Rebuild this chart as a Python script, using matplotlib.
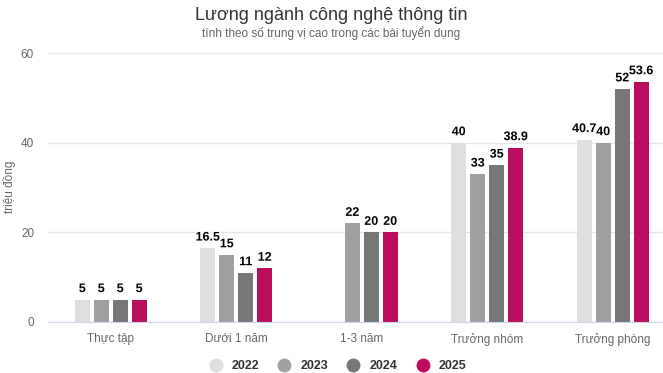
import matplotlib
matplotlib.use("Agg")
import matplotlib.pyplot as plt
import matplotlib.patheffects as pe
import numpy as np

plt.rcParams['font.family'] = ['Liberation Sans', 'DejaVu Sans']

categories = ["Thực tập", "Dưới 1 năm", "1-3 năm", "Trưởng nhóm", "Trưởng phòng"]
years = ["2022", "2023", "2024", "2025"]
v2022 = [5, 16.5, None, 40, 40.7]
v2023 = [5, 15, 22, 33, 40]
v2024 = [5, 11, 20, 35, 52]
v2025 = [5, 12, 20, 38.9, 53.6]
series = [v2022, v2023, v2024, v2025]
colors = ["#dedede", "#a0a0a0", "#777777", "#bb0e5e"]

fig = plt.figure(figsize=(6.63, 3.73), dpi=100)
# plot area runs slightly past the right edge, as in the original
ax = fig.add_axes([48 / 663, 1 - 322 / 373, 627.5 / 663, 269 / 373])

x = np.arange(len(categories))
width = 0.12
step = 0.151
for i, (vals, col) in enumerate(zip(series, colors)):
    off = (i - 1.5) * step
    for xi, v in zip(x, vals):
        if v is None:
            continue
        ax.bar(xi + off, v, width=width, color=col, zorder=3)
        lbl = ("%g" % v)
        ax.text(xi + off, v + 1.0, lbl, ha="center", va="bottom",
                fontsize=9, fontweight="bold", color="black", zorder=4,
                path_effects=[pe.withStroke(linewidth=2, foreground="white")])

ax.set_xlim(-0.5, len(categories) - 0.5)
ax.set_ylim(0, 60)
ax.set_yticks([0, 20, 40, 60])
ax.set_xticks(x)
ax.set_xticklabels(categories)
ax.tick_params(axis="both", length=0, labelsize=8.5, colors="#666666")
ax.tick_params(axis="x", pad=8)
ax.tick_params(axis="y", pad=10)
ax.grid(axis="y", color="#e6e6e6", linewidth=1, zorder=0)
for s in ["top", "right", "left"]:
    ax.spines[s].set_visible(False)
ax.spines["bottom"].set_color("#ccd6eb")
ax.spines["bottom"].set_zorder(5)
ax.set_ylabel("triệu đồng", fontsize=8.5, color="#666666")
ax.yaxis.label.set_verticalalignment("center")
ax.yaxis.set_label_coords(10 / 663, 1 - 187 / 373, transform=fig.transFigure)

fig.text(0.5, 1 - 15 / 373, "Lương ngành công nghệ thông tin", ha="center",
         va="center", fontsize=13, color="#333333")
fig.text(0.5, 1 - 33 / 373, "tính theo số trung vị cao trong các bài tuyển dụng",
         ha="center", va="center", fontsize=8.5, color="#666666")

handles = [plt.Line2D([], [], marker="o", linestyle="", markersize=9,
                      color=c) for c in colors]
leg = fig.legend(handles, years, loc="center", bbox_to_anchor=(0.505, 1 - 366 / 373),
                 ncol=4, frameon=False, handletextpad=0.3, columnspacing=1.0,
                 prop={"size": 9, "weight": "bold"})
for t in leg.get_texts():
    t.set_color("#333333")

fig.savefig("out.png", dpi=100)
